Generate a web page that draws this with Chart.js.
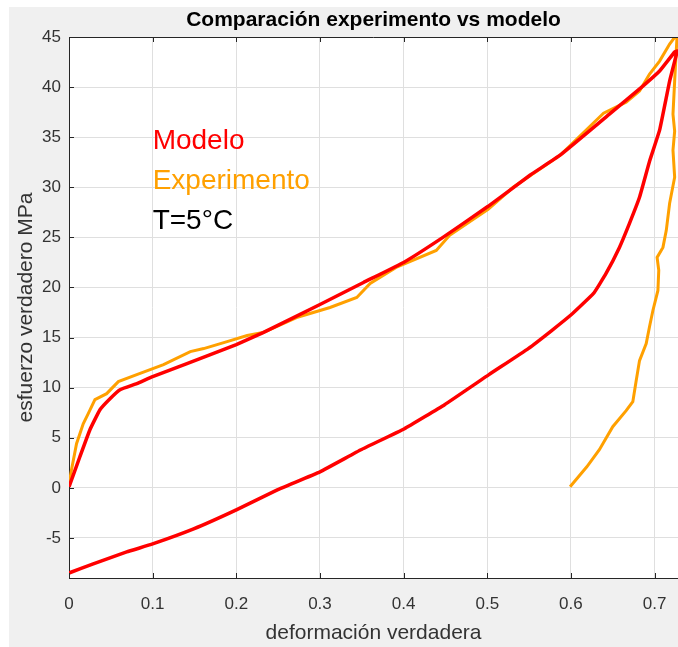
<!DOCTYPE html>
<html>
<head>
<meta charset="utf-8">
<script src="https://cdn.jsdelivr.net/npm/chart.js@4/dist/chart.umd.min.js"></script>
<style>
  html, body { margin: 0; padding: 0; background: #fff; }
  canvas { display: block; }
</style>
</head>
<body>
<canvas id="chart" width="678" height="647"></canvas>
<script>
// Modelo vs experimento, T = 5 °C
const modelX = [0, 0.013, 0.025, 0.037, 0.049, 0.061, 0.081, 0.1, 0.141, 0.169, 0.2, 0.232,
    0.3, 0.352, 0.4, 0.447, 0.501, 0.551, 0.587, 0.646, 0.686, 0.706, 0.724, 0.727,
    0.718, 0.706, 0.694, 0.682, 0.670, 0.658, 0.642, 0.627, 0.602, 0.577, 0.549, 0.502,
    0.449, 0.401, 0.349, 0.3, 0.249, 0.2, 0.149, 0.1, 0.069, 0.029, 0];
const modelY = [0.1, 3.1, 5.8, 7.8, 8.9, 9.8, 10.4, 11.1, 12.4, 13.3, 14.3, 15.5,
    18.3, 20.5, 22.5, 25.0, 28.1, 31.2, 33.2, 37.3, 40.1, 41.6, 43.5, 43.6,
    40.6, 35.7, 32.6, 29.0, 26.4, 24.0, 21.4, 19.4, 17.4, 15.7, 13.9, 11.3,
    8.3, 5.9, 3.8, 1.6, -0.2, -2.2, -4.1, -5.6, -6.4, -7.6, -8.5];

const expX = [0, 0.003, 0.009, 0.017, 0.023, 0.031, 0.045, 0.059, 0.081, 0.113, 0.145, 0.161,
    0.189, 0.213, 0.232, 0.272, 0.312, 0.344, 0.36, 0.391, 0.439, 0.455, 0.501, 0.531,
    0.587, 0.639, 0.666, 0.682, 0.694, 0.706, 0.718, 0.727,
    0.724, 0.722, 0.724, 0.722, 0.724, 0.718, 0.714, 0.710, 0.703, 0.705, 0.704, 0.698,
    0.694, 0.690, 0.682, 0.678, 0.674, 0.666, 0.650, 0.634, 0.619, 0.599];
const expY = [0.4, 1.8, 4.4, 6.4, 7.4, 8.8, 9.4, 10.6, 11.3, 12.3, 13.6, 13.9,
    14.6, 15.2, 15.5, 17.0, 18.0, 19.0, 20.4, 22.0, 23.7, 25.2, 27.8, 30.0,
    33.2, 37.4, 38.5, 39.6, 41.3, 42.6, 44.3, 45.3,
    40.6, 37.3, 35.6, 33.7, 31.0, 28.4, 25.7, 24.0, 23.0, 21.7, 19.7, 17.7,
    16.1, 14.4, 12.7, 10.7, 8.6, 7.7, 6.1, 3.8, 2.1, 0.1];

const notes = ['Modelo', 'Experimento', 'T=5°C'];
const noteColors = ['#ff0000', '#ffa000', '#000000'];
const noteX = 0.1;
const noteY = [33.8, 29.8, 25.8];

const titleText = 'Comparación experimento vs modelo';
const xTitle = 'deformación verdadera';
const yTitle = 'esfuerzo verdadero MPa';

const FONT = "'Liberation Sans', Arial, Helvetica, sans-serif";
const INK = '#333333';

function toPoints(xs, ys) {
    return xs.map((x, i) => ({ x: x, y: ys[i] }));
}

// figure background, white axes box, title, top border, inward ticks, notes
const matlabLook = {
    id: 'matlabLook',
    beforeDraw(chart) {
        const { ctx, chartArea: a } = chart;
        ctx.save();
        ctx.fillStyle = '#ffffff';
        ctx.fillRect(0, 0, chart.width, chart.height);
        ctx.fillStyle = '#f0f0f0';
        ctx.fillRect(9, 7, chart.width - 9, chart.height - 7);
        ctx.fillStyle = '#ffffff';
        ctx.fillRect(a.left, a.top, a.right - a.left, a.bottom - a.top);
        ctx.restore();
    },
    afterDraw(chart) {
        const { ctx, chartArea: a } = chart;
        const xs = chart.scales.x, ys = chart.scales.y;
        ctx.save();
        ctx.strokeStyle = '#262626';
        ctx.lineWidth = 1;
        ctx.beginPath();
        ctx.moveTo(a.left, Math.round(a.top) + 0.5);
        ctx.lineTo(a.right, Math.round(a.top) + 0.5);
        xs.ticks.forEach(t => {
            const px = Math.round(xs.getPixelForValue(t.value)) + 0.5;
            ctx.moveTo(px, a.bottom);
            ctx.lineTo(px, a.bottom - 5);
            ctx.moveTo(px, a.top);
            ctx.lineTo(px, a.top + 5);
        });
        ys.ticks.forEach(t => {
            const py = Math.round(ys.getPixelForValue(t.value)) + 0.5;
            ctx.moveTo(a.left, py);
            ctx.lineTo(a.left + 5, py);
        });
        ctx.stroke();

        ctx.fillStyle = '#000000';
        ctx.font = 'bold 21px ' + FONT;
        ctx.textAlign = 'center';
        ctx.textBaseline = 'alphabetic';
        ctx.fillText(titleText, (a.left + a.right) / 2, 26);

        ctx.font = '28px ' + FONT;
        ctx.textAlign = 'left';
        notes.forEach((txt, i) => {
            ctx.fillStyle = noteColors[i];
            ctx.fillText(txt, xs.getPixelForValue(noteX), ys.getPixelForValue(noteY[i]));
        });
        ctx.restore();
    }
};

const ctx = document.getElementById('chart').getContext('2d');
new Chart(ctx, {
    type: 'scatter',
    data: {
        datasets: [{
            label: 'Modelo',
            data: toPoints(modelX, modelY),
            showLine: true,
            borderColor: '#ff0000',
            borderWidth: 3.5,
            pointRadius: 0,
            tension: 0.1,
            fill: false
        }, {
            label: 'Experimento',
            data: toPoints(expX, expY),
            showLine: true,
            borderColor: '#ffa000',
            borderWidth: 3,
            pointRadius: 0,
            tension: 0,
            fill: false
        }]
    },
    options: {
        responsive: false,
        animation: false,
        devicePixelRatio: 1,
        layout: { padding: { top: 37, right: 0, bottom: 0, left: 0 } },
        plugins: {
            legend: { display: false },
            tooltip: { enabled: false },
            title: { display: false }
        },
        scales: {
            x: {
                type: 'linear',
                min: 0,
                max: 0.728,
                afterFit: s => { s.height = 69; s.paddingLeft = 0; s.paddingRight = 0; },
                grid: { color: '#dfdfdf', drawTicks: false },
                border: { display: true, color: '#262626', width: 1 },
                ticks: {
                    stepSize: 0.1,
                    includeBounds: false,
                    padding: 16,
                    color: INK,
                    font: { family: FONT, size: 17 },
                    callback: v => String(+v.toFixed(1))
                },
                title: {
                    display: true,
                    text: xTitle,
                    color: INK,
                    font: { family: FONT, size: 21 },
                    padding: { top: 0, bottom: 1 }
                }
            },
            y: {
                type: 'linear',
                min: -9,
                max: 45,
                afterFit: s => { s.width = 69; s.paddingTop = 0; s.paddingBottom = 0; },
                grid: { color: '#dfdfdf', drawTicks: false },
                border: { display: true, color: '#262626', width: 1 },
                ticks: {
                    stepSize: 5,
                    includeBounds: false,
                    padding: 8,
                    color: INK,
                    font: { family: FONT, size: 17 }
                },
                title: {
                    display: true,
                    text: yTitle,
                    color: INK,
                    font: { family: FONT, size: 21 },
                    padding: { top: 14, bottom: 0 }
                }
            }
        }
    },
    plugins: [matlabLook]
});
</script>
</body>
</html>
